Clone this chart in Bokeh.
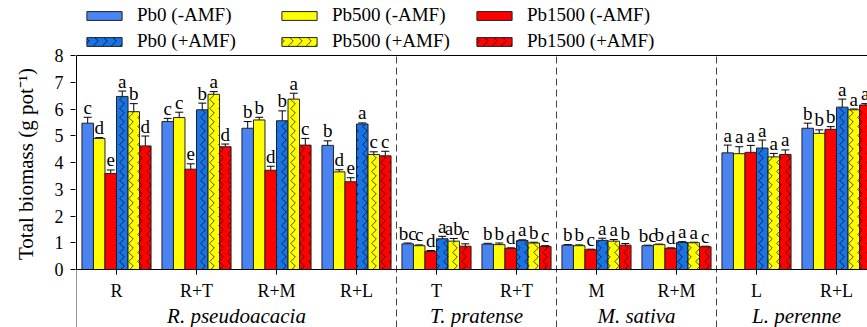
from bokeh.plotting import figure
from bokeh.models import (ColumnDataSource, Range1d, FixedTicker, Span, Legend,
                          LegendItem, Whisker, TeeHead)
from bokeh.core.properties import value
from bokeh.embed import file_html
from bokeh.resources import INLINE

# ---------------- data ----------------
treatments = ["R", "R+T", "R+M", "R+L", "T", "R+T", "M", "R+M", "L", "R+L"]
species = ["R. pseudoacacia", "T. pratense", "M. sativa", "L. perenne"]
species_members = [[0, 1, 2, 3], [4, 5], [6, 7], [8, 9]]

series_names = ["Pb0 (-AMF)", "Pb500 (-AMF)", "Pb1500 (-AMF)",
                "Pb0 (+AMF)", "Pb500 (+AMF)", "Pb1500 (+AMF)"]

pb0_noamf = [5.47, 5.53, 5.28, 4.64, 0.96, 0.95, 0.91, 0.89, 4.36, 5.28]
pb0_noamf_err = [0.22, 0.12, 0.25, 0.17, 0.03, 0.03, 0.02, 0.02, 0.29, 0.19]
pb0_noamf_let = ["c", "c", "b", "b", "bc", "b", "b", "bc", "a", "b"]

pb500_noamf = [4.90, 5.68, 5.59, 3.65, 0.89, 0.93, 0.89, 0.93, 4.33, 5.09]
pb500_noamf_err = [0.03, 0.20, 0.10, 0.08, 0.03, 0.06, 0.03, 0.02, 0.26, 0.13]
pb500_noamf_let = ["d", "c", "b", "d", "c", "b", "b", "b", "a", "b"]

pb1500_noamf = [3.59, 3.75, 3.71, 3.28, 0.68, 0.79, 0.74, 0.79, 4.38, 5.24]
pb1500_noamf_err = [0.13, 0.20, 0.15, 0.15, 0.03, 0.02, 0.02, 0.02, 0.26, 0.10]
pb1500_noamf_let = ["e", "e", "d", "e", "d", "d", "c", "d", "a", "b"]

pb0_amf = [6.47, 5.97, 5.56, 5.44, 1.15, 1.08, 1.09, 1.01, 4.54, 6.07]
pb0_amf_err = [0.20, 0.25, 0.37, 0.04, 0.09, 0.03, 0.08, 0.03, 0.30, 0.30]
pb0_amf_let = ["a", "b", "b", "a", "a", "a", "a", "a", "a", "a"]

pb500_amf = [5.90, 6.55, 6.37, 4.30, 1.06, 0.99, 1.06, 1.00, 4.21, 5.97]
pb500_amf_err = [0.30, 0.10, 0.22, 0.10, 0.10, 0.03, 0.06, 0.02, 0.13, 0.03]
pb500_amf_let = ["b", "a", "a", "c", "ab", "b", "a", "a", "a", "a"]

pb1500_amf = [4.62, 4.59, 4.65, 4.25, 0.87, 0.86, 0.91, 0.85, 4.30, 6.15]
pb1500_amf_err = [0.37, 0.10, 0.25, 0.17, 0.09, 0.03, 0.06, 0.02, 0.17, 0.05]
pb1500_amf_let = ["d", "d", "c", "c", "c", "c", "b", "c", "a", "a"]

y_ticks = [0, 1, 2, 3, 4, 5, 6, 7, 8]

series_values = [pb0_noamf, pb500_noamf, pb1500_noamf, pb0_amf, pb500_amf, pb1500_amf]
series_errors = [pb0_noamf_err, pb500_noamf_err, pb1500_noamf_err,
                 pb0_amf_err, pb500_amf_err, pb1500_amf_err]
series_letters = [pb0_noamf_let, pb500_noamf_let, pb1500_noamf_let,
                  pb0_amf_let, pb500_amf_let, pb1500_amf_let]

# ---------------- style ----------------
colors = ["#4A84F2", "#FFFF00", "#FF0000", "#1773E6", "#FFFF00", "#FF0000"]
hatched = [False, False, False, True, True, True]
FONT = "serif"
bar_w = 0.144
y_top = y_ticks[-1]
y_bot = -2.168
x_end = 9.3875

xs = list(range(len(treatments)))
x_left = -0.5

p = figure(width=867, height=327, output_backend="svg", toolbar_location=None,
           x_range=Range1d(x_left - 0.0125, x_end), y_range=Range1d(y_bot, 10.056),
           x_axis_location=None, min_border_left=75, min_border_right=0,
           min_border_bottom=0, min_border_top=0)
p.outline_line_color = None
p.xgrid.visible = False
p.ygrid.visible = False

legend_items = []
for k in range(6):
    vals = series_values[k]
    errs = series_errors[k]
    off = (k - 2.5) * bar_w
    src = ColumnDataSource(dict(
        x=xs, xb=[x + off for x in xs], top=vals,
        upper=[v + e for v, e in zip(vals, errs)],
        lower=[v - e for v, e in zip(vals, errs)],
        let=series_letters[k]))
    kw = {}
    if hatched[k]:
        kw = dict(hatch_pattern="vertical_wave", hatch_color="black",
                  hatch_scale=9, hatch_weight=0.7)
    r = p.vbar(x="xb", top="top", bottom=0, width=bar_w, source=src,
               fill_color=colors[k], line_color="#222222", line_width=1, **kw)
    legend_items.append(LegendItem(label=series_names[k], renderers=[r]))
    wh = Whisker(base="xb", upper="upper", lower="lower", source=src,
                 line_color="black", line_width=1,
                 upper_head=TeeHead(size=8, line_color="black", line_width=1),
                 lower_head=TeeHead(size=8, line_color="black", line_width=1))
    p.add_layout(wh)
    p.text(x="xb", y="upper", text="let", source=src, y_offset=-10,
           text_font=value(FONT), text_font_size="19px", text_align="center",
           text_baseline="alphabetic", text_color="black")

# axis lines, ticks and labels
p.add_layout(Span(location=0, dimension="width", line_color="black", line_width=1))
p.segment(x0=[x_left], y0=[0], x1=[x_left], y1=[y_top], line_color="black", line_width=1)
p.segment(x0=[x_left], y0=[y_bot], x1=[x_left], y1=[0], line_color="#999999", line_width=1)
p.segment(x0=[x_left], y0=[y_top], x1=[x_end], y1=[y_top], line_color="black", line_width=1)
p.segment(x0=xs, y0=[0] * len(xs), x1=xs, y1=[-0.19] * len(xs),
          line_color="black", line_width=1)
p.text(x=xs, y=[0] * len(xs), text=treatments, y_offset=21,
       text_font=value(FONT), text_font_size="18px", text_align="center",
       text_baseline="alphabetic", text_color="black")

gx = [sum(m) / len(m) for m in species_members]
p.text(x=gx, y=[0] * len(gx), text=species, y_offset=46,
       text_font=value(FONT), text_font_size="21px", text_font_style="italic",
       text_align="center", text_baseline="alphabetic", text_color="black")

sep = [m[-1] + 0.5 for m in species_members[:-1]]
p.segment(x0=sep, y0=[y_bot] * len(sep), x1=sep, y1=[y_top] * len(sep),
          line_color="#444444", line_width=1, line_dash="7 4")

# y axis
p.yaxis.ticker = FixedTicker(ticks=y_ticks)
p.yaxis.minor_tick_line_color = None
p.yaxis.major_tick_out = 5
p.yaxis.major_tick_in = 0
p.yaxis.major_label_standoff = 7
p.yaxis.major_label_text_font = FONT
p.yaxis.major_label_text_font_size = "18px"
p.yaxis.major_label_text_color = "black"
p.yaxis.axis_line_color = None
p.yaxis.major_tick_line_color = "black"
p.yaxis.axis_label = "Total biomass (g pot\u207b\u00b9)"
p.yaxis.axis_label_text_font = FONT
p.yaxis.axis_label_text_font_size = "21px"
p.yaxis.axis_label_text_font_style = "normal"
p.yaxis.axis_label_text_color = "black"
p.yaxis.axis_label_standoff = 14

legend = Legend(items=legend_items, orientation="horizontal", ncols=3,
                location=(7, 275), margin=0, padding=0, spacing=4,
                glyph_width=44, glyph_height=11, label_height=20,
                label_width=136, label_standoff=11,
                label_text_font=FONT, label_text_font_size="19px",
                label_text_color="black", border_line_color=None,
                background_fill_alpha=0)
p.add_layout(legend, "center")

open("out.html", "w").write(file_html(p, INLINE))
